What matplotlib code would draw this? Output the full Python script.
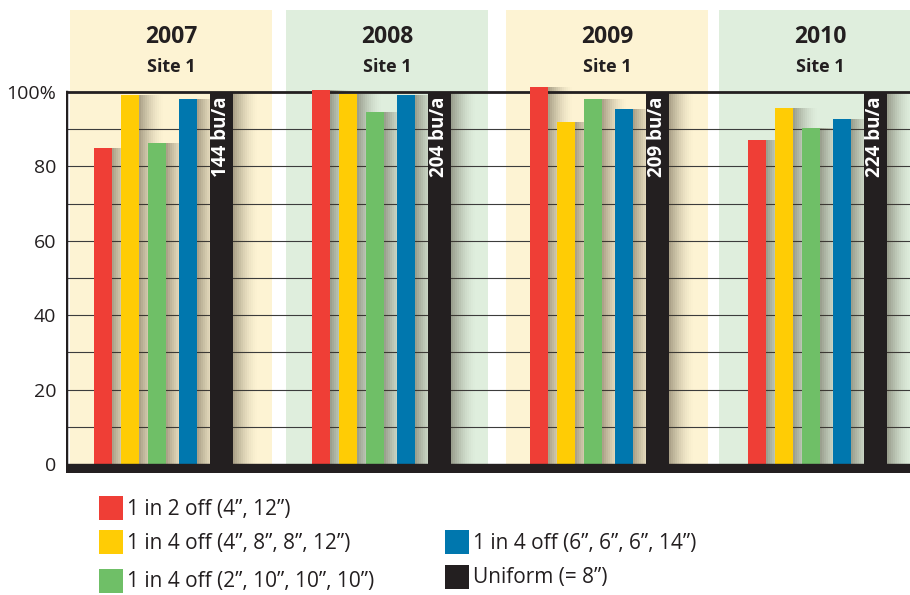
import matplotlib
matplotlib.use('Agg')
import matplotlib.pyplot as plt
from matplotlib.patches import Rectangle

plt.rcParams['font.family'] = ['Open Sans', 'DejaVu Sans']

# ---- data ----
years = ['2007', '2008', '2009', '2010']
sites = ['Site 1', 'Site 1', 'Site 1', 'Site 1']
series_names = ['1 in 2 off (4\u201d, 12\u201d)',
                '1 in 4 off (4\u201d, 8\u201d, 8\u201d, 12\u201d)',
                '1 in 4 off (2\u201d, 10\u201d, 10\u201d, 10\u201d)',
                '1 in 4 off (6\u201d, 6\u201d, 6\u201d, 14\u201d)',
                'Uniform (= 8\u201d)']
red_vals = [84.9, 100.5, 101.3, 87.1]
yellow_vals = [99.2, 99.5, 91.9, 95.7]
green_vals = [86.3, 94.6, 98.1, 90.3]
blue_vals = [98.1, 99.2, 95.4, 92.7]
uniform_vals = [100, 100, 100, 100]
uniform_yield = ['144 bu/a', '204 bu/a', '209 bu/a', '224 bu/a']
yticks = [0, 20, 40, 60, 80, 100]
ytick_labels = ['0', '20', '40', '60', '80', '100%']

# ---- style ----
colors = ['#ef3e36', '#ffcc05', '#6fbf67', '#0077ae', '#231f20']
panel_colors = ['#fdf3d3', '#dfeedd']
TXT = '#231f20'

W, H = 910, 595
fig = plt.figure(figsize=(W / 100, H / 100), dpi=100)
ax = fig.add_axes([66 / W, (H - 473) / H, (W - 66) / W, (473 - 10) / H])

U = 218.0  # pixels per group
def px(p):
    return p / U

ymin, ymax = -2.42, 122.0
ax.set_ylim(ymin, ymax)
ax.set_xlim(px(66 - 94), px(910 - 94))

all_vals = [red_vals, yellow_vals, green_vals, blue_vals, uniform_vals]
offsets = [0, 27, 54, 85, 116]
widths = [18, 18, 18, 18, 23]
panel_left = [-24, -26, -24, -29]

for i in range(len(years)):
    # panel background
    pl = panel_left[i]
    ax.add_patch(Rectangle((i + px(pl), 0), px(202 if i < 3 else 260), ymax,
                           facecolor=panel_colors[i % 2], edgecolor='none', zorder=0))
    cx = i + px(pl + 101)
    ax.text(cx, 114.8, years[i], ha='center', va='center', fontsize=16.5, fontweight='bold', color=TXT)
    ax.text(cx, 106.6, sites[i], ha='center', va='center', fontsize=13, fontweight='bold', color=TXT)

# gridlines
for v in range(10, 100, 10):
    ax.axhline(v, color='#3c3c3c', lw=0.8, zorder=1)
ax.axhline(100, color='#231f20', lw=2, zorder=2.5)

# bars with soft shadows
for s, vals in enumerate(all_vals):
    xs = [i + px(offsets[s]) for i in range(len(years))]
    w = px(widths[s])
    nsh = 12
    for k in range(nsh):
        a = 0.42 * (1 - k / nsh) ** 1.6
        ax.bar([x + w + px(2 * k) for x in xs], vals, width=px(2), align='edge',
               color='#3d3424', alpha=a, linewidth=0, zorder=2)
    ax.bar(xs, vals, width=w, align='edge', color=colors[s], linewidth=0, zorder=3)

for i in range(len(years)):
    bx = i + px(offsets[4] + widths[4] / 2)
    ax.text(bx, 98.8, uniform_yield[i], rotation=90, ha='center', va='top',
            color='white', fontsize=13.5, fontweight='bold', zorder=6)

# bottom band and left axis line
ax.axhspan(ymin, 0, color='#231f20', zorder=5)
ax.axvline(px(66 - 94), ymin=0, ymax=(100 - ymin) / (ymax - ymin), color='#231f20', lw=2.5, zorder=5)

for sp in ax.spines.values():
    sp.set_visible(False)
ax.set_xticks([])
ax.set_yticks(yticks, ytick_labels)
ax.tick_params(axis='y', length=0, pad=7, labelsize=14, labelcolor=TXT)

# legend (custom layout)
leg_pos = [(99, 508), (99, 542), (99, 581), (445, 542), (445, 577)]
for s, (lx, ly) in enumerate(leg_pos):
    fig.patches.append(Rectangle((lx / W, 1 - (ly + 12) / H), 24 / W, 24 / H,
                                 transform=fig.transFigure, facecolor=colors[s], edgecolor='none'))
    fig.text((lx + 28) / W, 1 - (ly + 1) / H, series_names[s], ha='left', va='center',
             fontsize=15, color=TXT)

fig.savefig('out.png', dpi=100)
